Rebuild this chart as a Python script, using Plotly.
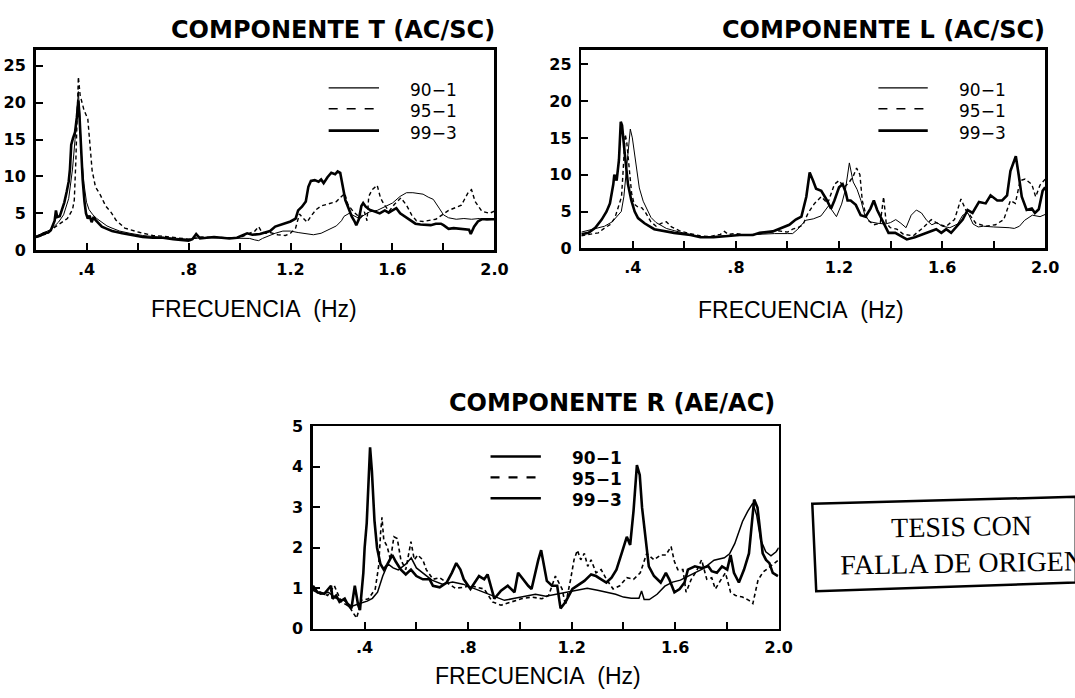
import plotly.graph_objects as go

# ---------------------------------------------------------------------------
# Spectral ratios (frequency in Hz, amplitude ratio) for three records
# ---------------------------------------------------------------------------
SERIES = ["90-1", "95-1", "99-3"]
LABELS = ["90\u22121", "95\u22121", "99\u22123"]

# Component T (AC/SC)
T_90_1 = [(0.20,1.9),(0.23,2.3),(0.26,2.8),(0.29,3.8),(0.31,4.8),(0.33,7.0),(0.345,11.0),(0.355,15.0),(0.362,19.0),(0.368,21.5),(0.374,18.0),(0.38,13.0),(0.39,9.0),(0.40,6.5),(0.41,5.5),(0.425,4.8),(0.44,4.3),(0.46,3.8),(0.48,3.3),(0.50,3.0),(0.53,2.6),(0.57,2.3),(0.62,2.0),(0.68,1.8),(0.74,1.6),(0.80,1.5),(0.85,1.7),(0.90,1.7),(0.95,1.6),(1.00,1.7),(1.04,1.6),(1.06,1.4),(1.075,1.3),(1.09,1.6),(1.11,1.9),(1.14,2.3),(1.17,2.6),(1.20,2.6),(1.23,2.4),(1.26,2.2),(1.29,2.1),(1.32,2.3),(1.35,2.8),(1.38,3.3),(1.40,4.0),(1.41,4.6),(1.43,5.0),(1.45,4.6),(1.47,4.3),(1.49,4.8),(1.51,5.2),(1.54,5.4),(1.57,5.9),(1.60,6.4),(1.63,7.3),(1.655,7.8),(1.68,7.8),(1.70,7.7),(1.72,7.6),(1.74,7.2),(1.76,6.9),(1.785,5.6),(1.80,4.8),(1.82,4.4),(1.85,4.2),(1.88,4.3),(1.91,4.2),(1.94,4.3),(1.97,4.1),(2.0,4.2)]
T_95_1 = [(0.20,1.7),(0.24,2.2),(0.27,3.0),(0.29,3.5),(0.31,4.0),(0.325,4.3),(0.345,5.5),(0.352,6.8),(0.358,12.0),(0.363,18.0),(0.368,23.5),(0.375,21.0),(0.39,19.0),(0.405,17.8),(0.415,13.5),(0.422,10.8),(0.435,8.6),(0.454,7.5),(0.475,6.0),(0.497,5.1),(0.515,4.1),(0.55,3.0),(0.61,2.4),(0.66,2.0),(0.70,1.9),(0.75,1.7),(0.80,1.5),(0.85,1.8),(0.90,1.7),(0.95,1.7),(1.00,1.7),(1.03,2.1),(1.06,2.6),(1.075,3.2),(1.085,2.6),(1.10,2.3),(1.12,2.4),(1.15,2.1),(1.18,2.0),(1.20,2.3),(1.22,3.0),(1.235,4.9),(1.25,4.4),(1.265,3.8),(1.28,4.6),(1.30,5.5),(1.32,6.0),(1.35,6.3),(1.38,6.6),(1.40,7.3),(1.413,7.7),(1.425,6.2),(1.445,5.3),(1.46,4.8),(1.475,4.4),(1.49,5.2),(1.50,4.0),(1.507,7.3),(1.52,8.2),(1.54,8.8),(1.553,7.1),(1.567,6.2),(1.587,5.3),(1.607,6.2),(1.633,7.1),(1.655,6.1),(1.675,4.8),(1.694,4.0),(1.72,3.9),(1.77,4.2),(1.82,5.4),(1.87,6.1),(1.898,7.9),(1.91,8.2),(1.924,6.6),(1.95,5.3),(1.98,5.0),(2.0,5.3)]
T_99_3 = [(0.20,1.8),(0.22,2.0),(0.233,2.3),(0.25,2.4),(0.26,2.7),(0.268,3.4),(0.275,4.0),(0.28,5.4),(0.285,4.5),(0.295,4.6),(0.305,5.5),(0.313,6.5),(0.322,7.9),(0.33,9.3),(0.335,11.0),(0.34,14.3),(0.347,15.2),(0.355,16.0),(0.362,18.0),(0.368,20.3),(0.372,18.5),(0.378,13.5),(0.385,9.5),(0.392,6.6),(0.398,5.0),(0.405,4.3),(0.412,4.7),(0.42,3.8),(0.428,4.5),(0.435,4.1),(0.445,3.7),(0.46,3.2),(0.48,2.9),(0.50,2.6),(0.54,2.3),(0.58,2.0),(0.62,1.8),(0.66,1.7),(0.70,1.7),(0.74,1.5),(0.78,1.4),(0.80,1.3),(0.815,1.5),(0.83,2.2),(0.845,1.6),(0.87,1.7),(0.90,1.8),(0.93,1.7),(0.96,1.6),(0.99,1.7),(1.01,2.0),(1.03,2.3),(1.05,2.1),(1.08,2.2),(1.10,2.4),(1.12,2.6),(1.14,3.2),(1.16,3.4),(1.18,3.6),(1.20,3.9),(1.22,4.3),(1.23,5.4),(1.245,5.9),(1.26,6.6),(1.27,8.6),(1.28,9.4),(1.295,9.5),(1.31,9.3),(1.32,9.6),(1.33,9.1),(1.345,9.9),(1.36,10.5),(1.375,10.3),(1.385,10.7),(1.395,10.5),(1.405,8.5),(1.415,6.8),(1.43,5.5),(1.44,4.6),(1.45,4.0),(1.458,3.4),(1.468,4.2),(1.478,6.0),(1.485,6.4),(1.495,5.9),(1.51,5.5),(1.53,5.3),(1.55,5.0),(1.57,5.4),(1.585,5.1),(1.60,5.4),(1.615,5.7),(1.63,5.0),(1.65,4.5),(1.67,4.0),(1.69,3.6),(1.71,3.5),(1.73,3.5),(1.75,3.4),(1.77,3.6),(1.79,3.6),(1.80,3.4),(1.82,2.9),(1.84,3.0),(1.86,2.9),(1.88,2.8),(1.90,2.8),(1.907,2.2),(1.92,3.2),(1.935,3.9),(1.95,4.2),(1.97,4.2),(2.0,4.2)]

# Component L (AC/SC)
L_90_1 = [(0.20,2.2),(0.25,2.6),(0.29,3.0),(0.32,3.6),(0.34,4.4),(0.355,5.0),(0.365,7.0),(0.375,11.0),(0.383,14.5),(0.39,16.2),(0.398,15.0),(0.405,13.2),(0.415,10.5),(0.425,8.2),(0.44,6.4),(0.455,5.2),(0.47,4.2),(0.49,3.5),(0.51,3.1),(0.53,2.7),(0.56,2.4),(0.60,2.0),(0.65,1.6),(0.70,1.6),(0.75,1.7),(0.80,1.8),(0.85,1.9),(0.90,2.0),(0.95,2.0),(1.00,2.0),(1.02,2.0),(1.04,2.6),(1.07,3.8),(1.10,4.0),(1.13,4.4),(1.16,5.8),(1.19,4.3),(1.21,6.0),(1.225,8.0),(1.24,11.6),(1.255,9.0),(1.27,8.0),(1.285,6.5),(1.30,4.5),(1.32,3.6),(1.35,3.4),(1.38,3.3),(1.40,3.5),(1.42,3.9),(1.44,3.4),(1.46,2.8),(1.48,4.5),(1.50,5.2),(1.52,4.8),(1.54,3.8),(1.56,3.2),(1.58,3.5),(1.60,3.0),(1.63,2.8),(1.66,3.3),(1.68,4.5),(1.70,4.8),(1.72,3.3),(1.74,2.9),(1.76,3.0),(1.80,2.9),(1.84,2.9),(1.86,2.8),(1.88,2.7),(1.90,3.0),(1.92,3.8),(1.95,4.5),(1.98,4.3),(2.0,4.6)]
L_95_1 = [(0.20,1.7),(0.228,1.9),(0.266,2.1),(0.292,2.8),(0.311,3.2),(0.33,4.1),(0.343,5.6),(0.356,7.0),(0.363,11.0),(0.37,15.5),(0.376,14.5),(0.385,11.0),(0.395,7.5),(0.405,6.0),(0.42,5.6),(0.435,5.5),(0.45,4.8),(0.47,3.6),(0.49,3.0),(0.51,3.4),(0.53,3.6),(0.55,2.9),(0.58,2.4),(0.62,2.0),(0.66,1.7),(0.70,1.6),(0.74,1.9),(0.755,2.3),(0.77,1.9),(0.80,2.0),(0.84,1.8),(0.88,1.9),(0.92,2.1),(0.96,2.4),(1.00,2.2),(1.02,2.6),(1.04,2.8),(1.06,3.2),(1.08,4.8),(1.105,6.1),(1.131,7.0),(1.156,6.1),(1.182,8.7),(1.20,9.2),(1.22,8.3),(1.24,9.0),(1.255,9.8),(1.268,10.9),(1.281,10.0),(1.29,6.5),(1.309,3.9),(1.335,3.2),(1.36,3.4),(1.373,7.0),(1.383,3.4),(1.399,2.8),(1.424,2.6),(1.45,1.9),(1.488,1.7),(1.526,2.8),(1.558,3.9),(1.59,3.2),(1.616,3.0),(1.648,3.9),(1.673,6.7),(1.692,5.2),(1.712,4.3),(1.731,3.4),(1.769,3.0),(1.807,3.2),(1.839,3.9),(1.865,6.5),(1.884,6.1),(1.903,9.2),(1.922,9.4),(1.948,8.7),(1.963,7.0),(1.98,8.6),(2.0,9.4)]
L_99_3 = [(0.20,1.9),(0.228,2.1),(0.254,2.8),(0.279,3.9),(0.298,5.0),(0.311,6.1),(0.324,8.7),(0.328,10.0),(0.337,9.2),(0.346,12.0),(0.353,17.2),(0.358,16.7),(0.369,12.7),(0.381,8.7),(0.394,6.5),(0.407,5.0),(0.42,4.1),(0.445,3.4),(0.483,2.6),(0.522,2.3),(0.56,2.1),(0.624,1.8),(0.662,1.5),(0.713,1.5),(0.764,1.7),(0.815,1.8),(0.866,1.8),(0.892,2.1),(0.943,2.3),(0.981,2.8),(1.007,3.2),(1.032,3.9),(1.054,4.3),(1.073,7.0),(1.086,10.3),(1.099,9.2),(1.111,8.1),(1.131,7.8),(1.15,6.7),(1.169,5.4),(1.182,6.5),(1.20,8.3),(1.214,8.7),(1.226,7.6),(1.233,6.5),(1.245,6.5),(1.265,5.9),(1.284,4.5),(1.303,4.3),(1.322,5.4),(1.335,6.5),(1.348,5.2),(1.367,3.9),(1.38,2.8),(1.392,2.1),(1.418,2.1),(1.437,1.7),(1.463,1.2),(1.494,1.5),(1.526,1.9),(1.552,2.3),(1.577,2.6),(1.597,2.1),(1.616,2.6),(1.635,2.1),(1.654,2.8),(1.68,3.9),(1.699,5.2),(1.718,4.8),(1.743,6.3),(1.769,6.1),(1.788,7.2),(1.814,6.5),(1.833,6.5),(1.852,7.2),(1.865,10.5),(1.886,12.5),(1.897,10.0),(1.909,7.0),(1.928,5.2),(1.948,5.4),(1.96,4.8),(1.975,5.3),(1.99,7.8),(2.0,8.3)]

# Component R (AE/AC)
R_90_1 = [(0.20,0.95),(0.23,0.85),(0.26,0.9),(0.29,0.75),(0.32,0.7),(0.35,0.55),(0.38,0.62),(0.41,0.68),(0.43,0.75),(0.45,0.9),(0.47,1.3),(0.49,1.6),(0.51,1.5),(0.53,1.45),(0.56,1.6),(0.58,1.75),(0.60,1.5),(0.63,1.35),(0.66,1.2),(0.70,1.1),(0.74,1.15),(0.78,1.1),(0.82,1.0),(0.86,0.9),(0.90,0.8),(0.94,0.7),(0.98,0.75),(1.02,0.8),(1.06,0.85),(1.10,0.8),(1.14,0.85),(1.18,0.9),(1.22,0.95),(1.26,1.0),(1.30,0.95),(1.34,0.9),(1.37,0.85),(1.40,0.78),(1.43,0.75),(1.46,0.75),(1.47,0.93),(1.48,0.72),(1.50,0.72),(1.53,0.85),(1.56,1.05),(1.59,1.15),(1.62,1.2),(1.66,1.33),(1.71,1.49),(1.75,1.69),(1.79,1.75),(1.81,1.85),(1.83,2.1),(1.86,2.65),(1.88,2.9),(1.90,3.1),(1.915,2.8),(1.93,2.2),(1.95,1.9),(1.97,1.8),(1.99,1.9),(2.0,2.0)]
R_95_1 = [(0.20,0.98),(0.231,0.9),(0.257,0.82),(0.283,1.06),(0.31,0.66),(0.34,0.55),(0.369,0.26),(0.388,0.7),(0.415,0.74),(0.441,0.98),(0.454,1.54),(0.462,2.4),(0.467,2.75),(0.474,2.19),(0.487,2.03),(0.50,1.7),(0.513,2.27),(0.526,2.23),(0.54,1.7),(0.559,1.46),(0.579,2.15),(0.592,1.7),(0.605,1.82),(0.625,1.7),(0.638,1.46),(0.664,1.22),(0.69,1.26),(0.717,1.14),(0.75,1.0),(0.78,1.02),(0.809,1.06),(0.862,0.98),(0.894,0.66),(0.927,0.58),(0.966,0.66),(1.006,0.74),(1.045,0.78),(1.085,0.74),(1.111,0.82),(1.137,1.3),(1.163,0.98),(1.176,0.58),(1.196,1.22),(1.209,1.7),(1.222,1.94),(1.235,1.7),(1.249,1.86),(1.262,1.54),(1.275,1.7),(1.294,1.38),(1.314,1.46),(1.334,1.22),(1.36,0.98),(1.386,1.06),(1.413,1.26),(1.439,1.22),(1.465,1.38),(1.49,1.86),(1.518,1.7),(1.544,1.82),(1.564,1.82),(1.584,2.03),(1.597,1.66),(1.61,1.46),(1.63,1.46),(1.642,0.9),(1.662,1.22),(1.682,1.42),(1.702,1.7),(1.722,1.22),(1.741,1.26),(1.755,0.98),(1.774,1.18),(1.794,1.38),(1.814,0.9),(1.833,0.82),(1.86,0.78),(1.885,0.7),(1.90,0.62),(1.92,1.2),(1.94,1.4),(1.96,1.5),(1.98,1.6),(2.0,1.7)]
R_99_3 = [(0.20,1.06),(0.218,0.9),(0.244,0.86),(0.27,1.06),(0.276,0.74),(0.29,0.82),(0.303,0.66),(0.323,0.74),(0.336,0.58),(0.349,0.5),(0.362,1.06),(0.375,0.58),(0.382,0.46),(0.395,1.38),(0.40,2.0),(0.408,2.6),(0.421,4.48),(0.428,3.9),(0.438,2.67),(0.448,2.0),(0.461,1.6),(0.474,1.46),(0.487,1.58),(0.507,1.82),(0.52,1.66),(0.54,1.46),(0.559,1.34),(0.579,1.46),(0.60,1.3),(0.625,1.22),(0.651,1.22),(0.664,1.06),(0.69,1.02),(0.717,1.14),(0.737,1.38),(0.754,1.62),(0.77,1.46),(0.783,1.22),(0.809,0.98),(0.828,1.18),(0.842,1.3),(0.862,1.22),(0.875,1.34),(0.901,0.74),(0.927,0.94),(0.953,1.06),(0.979,0.9),(0.993,1.38),(1.012,1.22),(1.032,1.06),(1.045,0.98),(1.058,1.38),(1.071,1.7),(1.082,1.94),(1.091,1.62),(1.104,1.18),(1.124,1.06),(1.144,1.06),(1.157,0.5),(1.176,0.66),(1.203,0.98),(1.222,1.06),(1.249,1.18),(1.275,1.34),(1.294,1.3),(1.314,1.22),(1.334,1.14),(1.354,1.26),(1.373,1.46),(1.393,1.86),(1.413,2.27),(1.426,2.07),(1.439,2.91),(1.452,4.04),(1.463,3.8),(1.472,2.99),(1.485,2.19),(1.498,1.54),(1.518,1.3),(1.544,1.14),(1.564,1.38),(1.577,1.22),(1.597,0.9),(1.617,0.98),(1.636,1.14),(1.649,1.46),(1.676,1.54),(1.702,1.5),(1.728,1.54),(1.741,1.42),(1.761,1.38),(1.781,1.54),(1.801,1.46),(1.814,1.82),(1.827,1.38),(1.846,1.14),(1.866,1.46),(1.885,1.86),(1.905,3.19),(1.918,2.99),(1.938,1.86),(1.951,1.7),(1.964,1.62),(1.977,1.38),(1.997,1.3)]

X_TICKS = [0.4, 0.6, 0.8, 1.0, 1.2, 1.4, 1.6, 1.8, 2.0]
X_TICKTEXT = [".4", "", ".8", "", "1.2", "", "1.6", "", "2.0"]
Y_TICKS_TL = [0, 5, 10, 15, 20, 25]
Y_TICKS_R = [0, 1, 2, 3, 4, 5]

TITLES = ["COMPONENTE T (AC/SC)", "COMPONENTE L (AC/SC)", "COMPONENTE R (AE/AC)"]
XTITLE = "FRECUENCIA\u00a0\u00a0(Hz)"
STAMP = "TESIS CON<br>FALLA DE ORIGEN"

# ---------------------------------------------------------------------------
# Page geometry (pixels) -> paper fractions
# ---------------------------------------------------------------------------
W, H = 1075, 698


def fx(p):
    return p / W


def fy(p):
    return 1 - p / H


# frame of each panel: left, right, top, bottom (pixels) and y range
PANELS = [
    dict(key="", data=[T_90_1, T_95_1, T_99_3], box=(36, 501, 41.7, 248), ymax=27.2,
         yticks=Y_TICKS_TL, title=(337, 22), xtitle=(257, 308),
         leg_line=(333, 384), leg_text=413, leg_y=(81, 102.5, 125), bold_leg=False),
    dict(key="2", data=[L_90_1, L_95_1, L_99_3], box=(589, 1059, 41.7, 246), ymax=27.0,
         yticks=Y_TICKS_TL, title=(895, 22), xtitle=(812, 309),
         leg_line=(890, 940), leg_text=970, leg_y=(81, 102.5, 125), bold_leg=False),
    dict(key="3", data=[R_90_1, R_95_1, R_99_3], box=(317, 789, 429, 637), ymax=5.0,
         yticks=Y_TICKS_R, title=(620, 405), xtitle=(545, 686),
         leg_line=(497, 548), leg_text=578, leg_y=(460, 481.5, 503), bold_leg=True),
]

# line style per record: (width, dash) ; R panel uses slightly heavier strokes
STYLE = {
    "90-1": (1.0, "solid"),
    "95-1": (1.4, "4px,3px"),
    "99-3": (2.6, "solid"),
}
STYLE_R = {
    "90-1": (1.5, "solid"),
    "95-1": (1.6, "4px,3px"),
    "99-3": (2.6, "solid"),
}
LEG_STYLE = {
    "90-1": (1.2, "solid"),
    "95-1": (1.5, "dash"),
    "99-3": (2.6, "solid"),
}
LEG_STYLE_R = {
    "90-1": (2.6, "solid"),
    "95-1": (2.2, "dash"),
    "99-3": (2.6, "solid"),
}

TICK_FONT = dict(family="DejaVu Sans", size=16, color="black", weight="bold")
TITLE_FONT = dict(family="DejaVu Sans", size=24, color="black", weight="bold")
XTITLE_FONT = dict(family="Liberation Sans", size=23, color="black")

fig = go.Figure()
annotations = []
shapes = []

for idx, panel in enumerate(PANELS):
    k = panel["key"]
    left, right, top, bottom = panel["box"]
    styles = STYLE_R if k == "3" else STYLE
    for name, pts in zip(SERIES, panel["data"]):
        w, d = styles[name]
        fig.add_trace(go.Scatter(
            x=[p[0] for p in pts], y=[p[1] for p in pts],
            mode="lines", name=name, showlegend=False,
            line=dict(color="black", width=w, dash=d, shape="linear"),
            xaxis="x" + k, yaxis="y" + k, hoverinfo="skip",
        ))

    common = dict(showgrid=False, zeroline=False, showline=True, mirror=True,
                  linecolor="black", linewidth=2.5, ticks="inside", ticklen=7,
                  tickwidth=2, tickcolor="black", tickfont=TICK_FONT, fixedrange=True)
    fig.update_layout(**{
        "xaxis" + k: dict(domain=[fx(left), fx(right)], range=[0.2, 2.0],
                          tickmode="array", tickvals=X_TICKS, ticktext=X_TICKTEXT,
                          anchor="y" + k, ticklabelstandoff=3, **common),
        "yaxis" + k: dict(domain=[fy(bottom), fy(top)], range=[0, panel["ymax"]],
                          tickmode="array", tickvals=panel["yticks"],
                          ticktext=[str(v) for v in panel["yticks"]],
                          anchor="x" + k, ticklabelstandoff=4, **common),
    })

    tx, ty = panel["title"]
    annotations.append(dict(text=TITLES[idx], x=fx(tx), y=fy(ty),
                            xref="paper", yref="paper", xanchor="center", yanchor="middle",
                            showarrow=False, font=TITLE_FONT))
    ax, ay = panel["xtitle"]
    annotations.append(dict(text=XTITLE, x=fx(ax), y=fy(ay), xref="paper", yref="paper",
                            xanchor="center", yanchor="middle", showarrow=False,
                            font=XTITLE_FONT))

    # legend: line sample + record label
    lx0, lx1 = panel["leg_line"]
    lstyles = LEG_STYLE_R if k == "3" else LEG_STYLE
    for name, label, ly in zip(SERIES, LABELS, panel["leg_y"]):
        w, d = lstyles[name]
        shapes.append(dict(type="line", xref="paper", yref="paper",
                           x0=fx(lx0), x1=fx(lx1), y0=fy(ly), y1=fy(ly),
                           line=dict(color="black", width=w, dash=d)))
        annotations.append(dict(text=label, x=fx(panel["leg_text"]), y=fy(ly + 2),
                                xref="paper", yref="paper", xanchor="left",
                                yanchor="middle", showarrow=False,
                                font=dict(family="DejaVu Sans", size=17, color="black",
                                          weight="bold" if panel["bold_leg"] else "normal")))

# stamp box in the lower right corner (runs past the page edge)
shapes.append(dict(type="path", xref="paper", yref="paper",
                   path="M {} {} L {} {} L {} {} L {} {} Z".format(
                       fx(823), fy(508.5), fx(1090), fy(501.5),
                       fx(1090), fy(589.5), fx(827), fy(598.5)),
                   line=dict(color="black", width=2.5), fillcolor="rgba(0,0,0,0)"))
annotations.append(dict(text=STAMP, x=fx(975), y=fy(550), xref="paper", yref="paper",
                        xanchor="center", yanchor="middle", align="center",
                        showarrow=False, textangle=-1,
                        font=dict(family="Liberation Serif", size=28, color="black")))

fig.update_layout(
    width=W, height=H, autosize=False,
    margin=dict(l=0, r=0, t=0, b=0, pad=0),
    paper_bgcolor="white", plot_bgcolor="white",
    showlegend=False,
    annotations=annotations, shapes=shapes,
)

fig.write_html("out.html", config={"displayModeBar": False, "staticPlot": True})
